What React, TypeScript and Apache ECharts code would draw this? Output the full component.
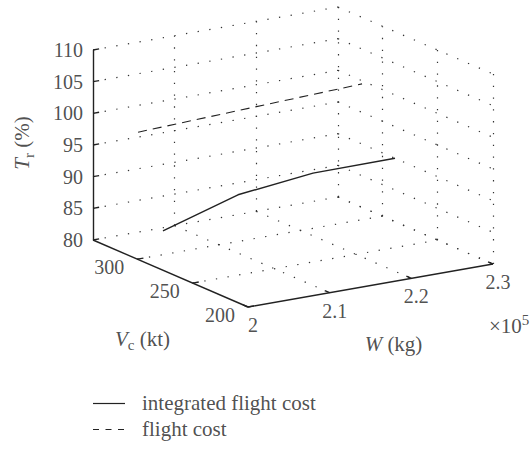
import React, { useEffect, useRef } from "react";
import * as echarts from "echarts";

// ---- axis ranges and ticks ----
const W_RANGE = [2.0, 2.3]; // ×10^5 kg
const VC_RANGE = [200, 340]; // kt
const TR_RANGE = [80, 110]; // %
const W_TICKS = [2.0, 2.1, 2.2, 2.3];
const W_TICK_LABELS = ["2", "2.1", "2.2", "2.3"];
const VC_TICKS = [200, 250, 300];
const VC_TICK_LABELS = ["200", "250", "300"];
const TR_TICKS = [80, 85, 90, 95, 100, 105, 110];
const TR_TICK_LABELS = ["80", "85", "90", "95", "100", "105", "110"];

// ---- series data (W ×10^5 kg, Vc kt, Tr %) ----
const SERIES_NAMES = ["integrated flight cost", "flight cost"];
const integratedW = [2.0, 2.1, 2.2, 2.3];
const integratedVc = [276.8, 282.8, 288.8, 288.5];
const integratedTr = [86.2, 89.2, 89.9, 90.0];

const flightW = [2.0, 2.3];
const flightVc = [299.3, 318.3];
const flightTr = [100.1, 99.5];

// ---- box placement on the page (layout) ----
const BOX = { ox: 93, oy: 240, wx: 245, wy: -43, vx: 155, vy: 67, zh: 190 };
const LEGEND = { x: 93, y: 403, len: 32, gap: 26, textDx: 49 };
const FONT = "'Liberation Serif', 'DejaVu Serif', serif";
const INK = "#222";
const DASH = [9, 6];

function proj(w: number, v: number, z: number): number[] {
  const a = (w - W_RANGE[0]) / (W_RANGE[1] - W_RANGE[0]);
  const b = (VC_RANGE[1] - v) / (VC_RANGE[1] - VC_RANGE[0]);
  const c = (z - TR_RANGE[0]) / (TR_RANGE[1] - TR_RANGE[0]);
  return [BOX.ox + a * BOX.wx + b * BOX.vx, BOX.oy + a * BOX.wy + b * BOX.vy - c * BOX.zh];
}

function off(p: number[], dx: number, dy: number) {
  return [p[0] + dx, p[1] + dy];
}

export default function App() {
  const ref = useRef<HTMLDivElement>(null);
  useEffect(() => {
    if (!ref.current) return;
    const chart = echarts.init(ref.current, undefined, { renderer: "svg" });
    const [w0, w1] = W_RANGE;
    const [v0, v1] = VC_RANGE;
    const [z0, z1] = TR_RANGE;

    // dotted grid on back walls and floor
    const gridSegs: number[][][] = [];
    TR_TICKS.forEach((z) => {
      gridSegs.push([proj(w0, v1, z), proj(w1, v1, z)]);
      gridSegs.push([proj(w1, v1, z), proj(w1, v0, z)]);
    });
    W_TICKS.filter((w) => w > w0).forEach((w) => {
      gridSegs.push([proj(w, v1, z0), proj(w, v1, z1)]);
      gridSegs.push([proj(w, v1, z0), proj(w, v0, z0)]);
    });
    VC_TICKS.forEach((v) => {
      gridSegs.push([proj(w1, v, z0), proj(w1, v, z1)]);
      if (v > v0) gridSegs.push([proj(w0, v, z0), proj(w1, v, z0)]);
    });

    // solid axes
    const axisSegs = [
      [proj(w0, v1, z0), proj(w0, v1, z1)],
      [proj(w0, v1, z0), proj(w0, v0, z0)],
      [proj(w0, v0, z0), proj(w1, v0, z0)],
    ];
    const tickW = (w1 - w0) * 0.025;
    const tickV = (v1 - v0) * 0.032;
    TR_TICKS.forEach((z) => axisSegs.push([proj(w0, v1, z), proj(w0 + tickW, v1, z)]));
    VC_TICKS.forEach((v) => axisSegs.push([proj(w0, v, z0), proj(w0 + tickW, v, z0)]));
    W_TICKS.forEach((w) => axisSegs.push([proj(w, v0, z0), proj(w, v0 + tickV, z0)]));

    const labelStyle = { fontFamily: FONT, fontSize: 20, color: INK };
    const labels: any[] = [];
    TR_TICKS.forEach((z, i) =>
      labels.push({ value: off(proj(w0, v1, z), -10, 0), label: { formatter: TR_TICK_LABELS[i], align: "right" } })
    );
    VC_TICKS.forEach((v, i) =>
      labels.push({ value: off(proj(w0, v, z0), -28, 8), label: { formatter: VC_TICK_LABELS[i], align: "center" } })
    );
    W_TICKS.forEach((w, i) =>
      labels.push({ value: off(proj(w, v0, z0), 5, 18), label: { formatter: W_TICK_LABELS[i], align: "center" } })
    );
    const rich = {
      i: { fontFamily: FONT, fontSize: 21, fontStyle: "italic", color: INK, lineHeight: 28, verticalAlign: "middle" },
      n: { fontFamily: FONT, fontSize: 21, color: INK, lineHeight: 28, verticalAlign: "middle" },
      s: { fontFamily: FONT, fontSize: 15, color: INK, lineHeight: 28, verticalAlign: "bottom" },
      p: { fontFamily: FONT, fontSize: 15, color: INK, lineHeight: 28, verticalAlign: "top" },
    };
    const cW = proj(w1, v0, z0);
    const midW = proj((w0 + w1) / 2, v0, z0);
    const midV = proj(w0, (v0 + v1) / 2, z0);
    const midZ = proj(w0, v1, (z0 + z1) / 2);
    labels.push({ value: off(cW, -4, 62), label: { formatter: "{n|×10}{p|5}", align: "left", rich } });
    labels.push({ value: off(midW, 23, 58), label: { formatter: "{i|W}{n| (kg)}", align: "center", rich } });
    labels.push({ value: off(midV, -28, 65), label: { formatter: "{i|V}{s|c}{n| (kt)}", align: "center", rich } });
    labels.push({
      value: off(midZ, -71, -2),
      label: { formatter: "{i|T}{s|r}{n| (%)}", align: "center", rotate: 90, rich },
    });
    // legend texts
    SERIES_NAMES.forEach((name, i) =>
      labels.push({
        value: [LEGEND.x + LEGEND.textDx, LEGEND.y + i * LEGEND.gap],
        label: { formatter: name, align: "left", fontSize: 21 },
      })
    );

    const toXY = (ws: number[], vs: number[], zs: number[]) => ws.map((w, i) => proj(w, vs[i], zs[i]));

    chart.setOption({
      animation: false,
      backgroundColor: "#fff",
      grid: { left: 0, right: 0, top: 0, bottom: 0 },
      xAxis: { type: "value", min: 0, max: 532, show: false },
      yAxis: { type: "value", min: 0, max: 449, inverse: true, show: false },
      series: [
        {
          type: "lines",
          coordinateSystem: "cartesian2d",
          silent: true,
          lineStyle: { color: "#333", width: 1.2, type: [1.3, 10.5], opacity: 1 },
          data: gridSegs.map((c) => ({ coords: c })),
          z: 1,
        },
        {
          type: "lines",
          coordinateSystem: "cartesian2d",
          silent: true,
          lineStyle: { color: INK, width: 1.4, type: "solid", opacity: 1 },
          data: axisSegs.map((c) => ({ coords: c })),
          z: 2,
        },
        {
          type: "line",
          name: SERIES_NAMES[0],
          data: toXY(integratedW, integratedVc, integratedTr),
          showSymbol: false,
          symbol: "none",
          lineStyle: { color: INK, width: 1.4, type: "solid" },
          itemStyle: { color: INK },
          z: 3,
        },
        {
          type: "line",
          name: SERIES_NAMES[1],
          data: toXY(flightW, flightVc, flightTr),
          showSymbol: false,
          symbol: "none",
          lineStyle: { color: INK, width: 1.1, type: DASH },
          itemStyle: { color: INK },
          z: 3,
        },
        {
          type: "lines",
          coordinateSystem: "cartesian2d",
          silent: true,
          lineStyle: { color: INK, width: 1.2, type: "solid", opacity: 1 },
          data: [{ coords: [[LEGEND.x, LEGEND.y], [LEGEND.x + LEGEND.len, LEGEND.y]] }],
          z: 3,
        },
        {
          type: "lines",
          coordinateSystem: "cartesian2d",
          silent: true,
          lineStyle: { color: INK, width: 1.1, type: [6, 6.5], opacity: 1 },
          data: [{ coords: [[LEGEND.x, LEGEND.y + LEGEND.gap], [LEGEND.x + LEGEND.len, LEGEND.y + LEGEND.gap]] }],
          z: 3,
        },
        {
          type: "scatter",
          symbolSize: 0,
          silent: true,
          data: labels,
          label: { show: true, position: "inside", verticalAlign: "middle", ...labelStyle },
          z: 4,
        },
      ],
    });
    return () => chart.dispose();
  }, []);
  return (
    <div
      ref={ref}
      style={{ position: "fixed", left: 0, top: 0, width: 532, height: 449, background: "#fff" }}
    />
  );
}
